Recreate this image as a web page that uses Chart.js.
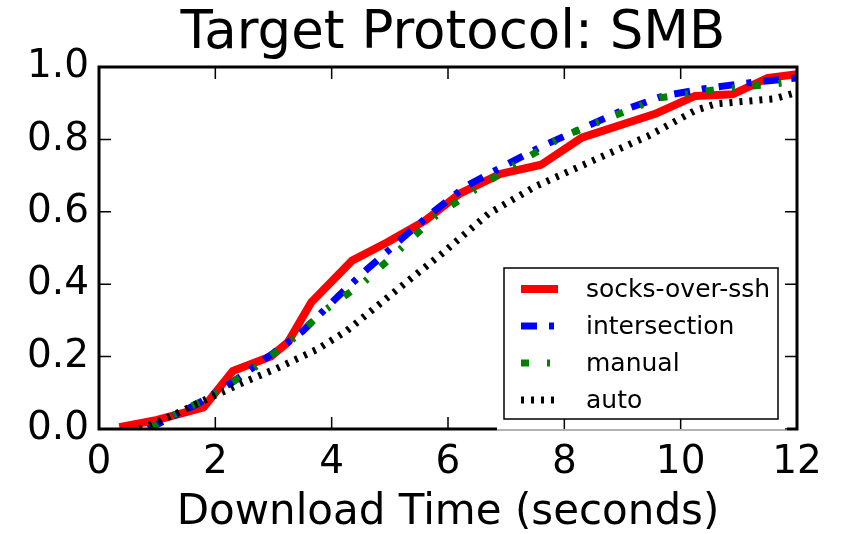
<!DOCTYPE html>
<html>
<head>
<meta charset="utf-8">
<script src="https://cdn.jsdelivr.net/npm/chart.js@4.4.0/dist/chart.umd.min.js"></script>
<style>
  html, body { margin: 0; padding: 0; background: #fff; }
  #wrap { width: 846px; height: 534px; }
</style>
</head>
<body>
<div id="wrap"><canvas id="chart"></canvas></div>
<script>
// data
const seriesNames = ['socks-over-ssh', 'intersection', 'manual', 'auto'];

const sshX = [0.35, 1.0, 1.8, 2.3, 2.95, 3.25, 3.65, 4.35, 4.95, 5.6, 6.2, 6.9, 7.6, 8.3, 9.55, 10.25, 10.9, 11.5, 12.0];
const sshY = [0.005, 0.025, 0.06, 0.16, 0.2, 0.24, 0.35, 0.465, 0.515, 0.575, 0.65, 0.705, 0.73, 0.805, 0.87, 0.92, 0.925, 0.97, 0.98];

const interX = [0.85, 1.15, 1.7, 2.3, 3.0, 3.5, 4.1, 4.6, 5.2, 5.75, 6.3, 7.0, 7.6, 8.3, 9.0, 9.7, 10.4, 11.1, 12.0];
const interY = [0.0, 0.025, 0.07, 0.13, 0.21, 0.27, 0.365, 0.44, 0.525, 0.6, 0.67, 0.73, 0.78, 0.83, 0.88, 0.92, 0.94, 0.955, 0.97];

const manualX = [0.9, 1.0, 1.8, 2.5, 3.2, 3.9, 4.55, 5.2, 5.8, 6.55, 7.25, 8.0, 8.85, 9.65, 10.5, 11.4, 12.0];
const manualY = [0.0, 0.015, 0.08, 0.15, 0.23, 0.33, 0.405, 0.5, 0.59, 0.67, 0.74, 0.81, 0.865, 0.915, 0.935, 0.95, 0.96];

const autoX = [0.7, 1.2, 1.75, 2.5, 3.05, 3.75, 4.25, 5.05, 5.9, 6.7, 7.5, 8.5, 9.45, 10.25, 10.6, 11.6, 12.0];
const autoY = [0.0, 0.033, 0.075, 0.13, 0.167, 0.22, 0.27, 0.375, 0.485, 0.595, 0.67, 0.742, 0.81, 0.88, 0.898, 0.912, 0.93];

const xTicks = [0, 2, 4, 6, 8, 10, 12];
const yTicks = [0.0, 0.2, 0.4, 0.6, 0.8, 1.0];

const FONT = 'DejaVu Sans';

function pts(xs, ys) {
  return xs.map((x, i) => ({ x: x, y: ys[i] }));
}

const styles = [
  { color: '#ff0000', width: 8, dash: [] },
  { color: '#0000ff', width: 7, dash: [16, 12, 5, 12] },
  { color: '#008000', width: 7, dash: [8, 18, 3, 18] },
  { color: '#000000', width: 7, dash: [3, 7] }
];
const allData = [pts(sshX, sshY), pts(interX, interY), pts(manualX, manualY), pts(autoX, autoY)];

const datasets = seriesNames.map((name, i) => ({
  label: name,
  data: allData[i],
  showLine: true,
  borderColor: styles[i].color,
  backgroundColor: styles[i].color,
  borderWidth: styles[i].width,
  borderDash: styles[i].dash,
  borderCapStyle: 'butt',
  borderJoinStyle: 'round',
  pointRadius: 0,
  tension: 0,
  order: 4 - i
}));

// frame, inward ticks and the matplotlib style legend
const framePlugin = {
  id: 'frame',
  afterLayout(chart) {
    // center the title over the plot area, like matplotlib does
    if (chart.titleBlock) {
      chart.titleBlock.left = chart.chartArea.left + 10;
      chart.titleBlock.right = chart.chartArea.right;
    }
  },
  afterDatasetsDraw(chart) {
    const ctx = chart.ctx;
    const a = chart.chartArea;
    const xs = chart.scales.x, ys = chart.scales.y;
    ctx.save();
    ctx.strokeStyle = '#000';
    ctx.lineWidth = 1.5;
    xTicks.forEach(t => {
      const px = xs.getPixelForValue(t);
      ctx.beginPath();
      ctx.moveTo(px, a.bottom); ctx.lineTo(px, a.bottom - 12);
      ctx.moveTo(px, a.top); ctx.lineTo(px, a.top + 12);
      ctx.stroke();
    });
    yTicks.forEach(t => {
      const py = ys.getPixelForValue(t);
      ctx.beginPath();
      ctx.moveTo(a.left, py); ctx.lineTo(a.left + 12, py);
      ctx.moveTo(a.right, py); ctx.lineTo(a.right - 12, py);
      ctx.stroke();
    });

    // legend box
    const bw = 274, bh = 151;
    const bx = a.right - 19 - bw, by = a.bottom - 10 - bh;
    ctx.fillStyle = '#fff';
    ctx.fillRect(bx, by, bw, bh);
    ctx.lineWidth = 1.5;
    ctx.strokeRect(bx, by, bw, bh);
    ctx.font = '25px "' + FONT + '"';
    ctx.textBaseline = 'middle';
    ctx.textAlign = 'left';
    seriesNames.forEach((name, i) => {
      const cy = by + 21 + i * 37;
      ctx.beginPath();
      ctx.strokeStyle = styles[i].color;
      ctx.lineWidth = styles[i].width;
      ctx.lineCap = 'butt';
      ctx.setLineDash(styles[i].dash);
      ctx.moveTo(bx + 17, cy);
      ctx.lineTo(bx + 54, cy);
      ctx.stroke();
      ctx.setLineDash([]);
      ctx.fillStyle = '#000';
      ctx.fillText(name, bx + 82, cy + 1);
    });

    // spines
    ctx.strokeStyle = '#000';
    ctx.lineWidth = 3;
    ctx.beginPath();
    ctx.moveTo(bx - 7, a.bottom);
    ctx.lineTo(a.left, a.bottom);
    ctx.lineTo(a.left, a.top);
    ctx.lineTo(a.right, a.top);
    ctx.lineTo(a.right, a.bottom);
    ctx.lineTo(a.right - 10, a.bottom);
    ctx.stroke();
    ctx.lineWidth = 1;
    ctx.strokeStyle = '#666';
    ctx.beginPath();
    ctx.moveTo(bx - 7, a.bottom + 1);
    ctx.lineTo(a.right - 10, a.bottom + 1);
    ctx.stroke();
    ctx.restore();
  }
};

new Chart(document.getElementById('chart'), {
  type: 'scatter',
  data: { datasets: datasets },
  options: {
    responsive: true,
    maintainAspectRatio: false,
    animation: false,
    layout: { padding: { left: 0, right: 49, top: 0, bottom: 0 } },
    plugins: {
      legend: { display: false },
      tooltip: { enabled: false },
      title: {
        display: true,
        text: 'Target Protocol: SMB',
        color: '#000',
        font: { family: FONT, size: 53, weight: 'normal', lineHeight: 1.2 },
        padding: { top: 2, bottom: 1.4 }
      }
    },
    scales: {
      x: {
        type: 'linear',
        min: 0, max: 12,
        afterFit: s => { s.height = 105; },
        grid: { display: false, drawTicks: false },
        border: { display: false },
        ticks: {
          stepSize: 2,
          color: '#000',
          padding: 10,
          font: { family: FONT, size: 39 }
        },
        title: {
          display: true,
          text: 'Download Time (seconds)',
          color: '#000',
          font: { family: FONT, size: 42, lineHeight: 1.0 },
          padding: { top: 0, bottom: 0 }
        }
      },
      y: {
        min: 0, max: 1,
        afterFit: s => { s.width = 99; },
        grid: { display: false, drawTicks: false },
        border: { display: false },
        ticks: {
          stepSize: 0.2,
          color: '#000',
          padding: 10,
          font: { family: FONT, size: 39 },
          callback: v => v.toFixed(1)
        }
      }
    }
  },
  plugins: [framePlugin]
});
</script>
</body>
</html>
